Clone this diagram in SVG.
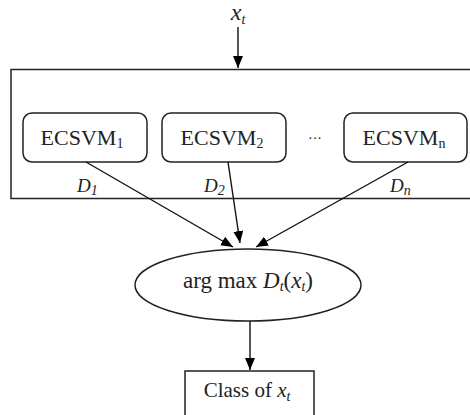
<svg xmlns="http://www.w3.org/2000/svg" width="470" height="415" viewBox="0 0 470 415">
<defs>
<marker id="ah" markerUnits="userSpaceOnUse" markerWidth="12" markerHeight="12" viewBox="0 0 12 12" refX="12" refY="6" orient="auto">
<path d="M0,1 L12,6 L0,11 Z" fill="#000"/>
</marker>
</defs>
<style>
.box{fill:#fff;stroke:#222;stroke-width:1.5}
.t{font-family:"Liberation Serif","Times New Roman",serif;font-size:22px;fill:#222}
.i{font-style:italic}
.sub{font-size:14px}
.lbl{font-family:"Liberation Serif","Times New Roman",serif;font-size:19px;font-style:italic;fill:#222}
.con{stroke:#111;stroke-width:1.4;fill:none;marker-end:url(#ah)}
</style>
<rect width="470" height="415" fill="#fff"/>
<g id="ensemble">
<rect class="box" x="11" y="69.5" width="462" height="129"/>
</g>
<g id="input">
<text class="t i" x="238" y="20" text-anchor="middle" style="font-size:24px">x<tspan class="sub" dy="4">t</tspan></text>
</g>
<g id="ecsvm1">
<rect class="box" x="23" y="113" width="124" height="49" rx="9"/>
<text class="t" x="82" y="145" text-anchor="middle">ECSVM<tspan class="sub" dy="3">1</tspan></text>
</g>
<g id="ecsvm2">
<rect class="box" x="162" y="113" width="124" height="49" rx="9"/>
<text class="t" x="222" y="145" text-anchor="middle">ECSVM<tspan class="sub" dy="3">2</tspan></text>
</g>
<g id="dots">
<text class="t" x="315" y="143" text-anchor="middle" style="font-size:14px">···</text>
</g>
<g id="ecsvmn">
<rect class="box" x="344" y="113" width="123" height="49" rx="9"/>
<text class="t" x="404" y="145" text-anchor="middle">ECSVM<tspan class="sub" dy="3">n</tspan></text>
</g>
<g id="labels">
<text class="lbl" x="77" y="192">D<tspan class="sub" dy="3">1</tspan></text>
<text class="lbl" x="204" y="192">D<tspan class="sub" dy="3">2</tspan></text>
<text class="lbl" x="390" y="192">D<tspan class="sub" dy="3">n</tspan></text>
</g>
<g id="argmax">
<ellipse class="box" cx="248" cy="285" rx="113" ry="36"/>
<text class="t" x="248" y="288" text-anchor="middle" style="font-size:23px">arg max <tspan class="i">D</tspan><tspan class="i sub" dy="3">t</tspan><tspan dy="-3">(</tspan><tspan class="i">x</tspan><tspan class="i sub" dy="3">t</tspan><tspan dy="-3">)</tspan></text>
</g>
<g id="class">
<rect class="box" x="185" y="371" width="129" height="60"/>
<text class="t" x="247" y="397" text-anchor="middle" style="font-size:21px">Class of <tspan class="i">x</tspan><tspan class="i sub" dy="4">t</tspan></text>
</g>
<g id="connectors">
<line class="con" x1="238" y1="27" x2="238" y2="68"/>
<line class="con" x1="86" y1="162" x2="233" y2="247"/>
<line class="con" x1="228" y1="162" x2="240" y2="243"/>
<line class="con" x1="408" y1="162" x2="256" y2="247"/>
<line class="con" x1="250" y1="321" x2="250" y2="370"/>
</g>
</svg>
